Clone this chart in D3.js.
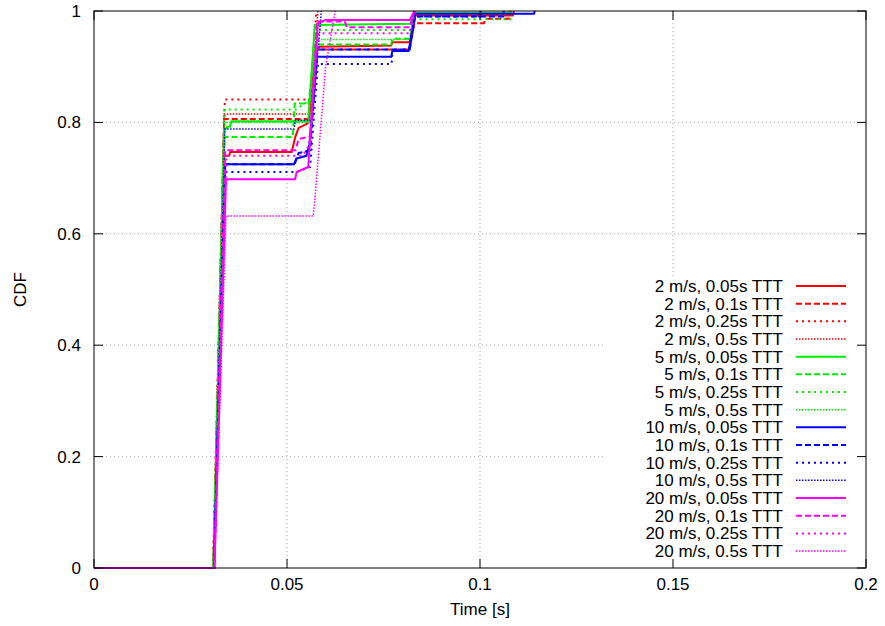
<!DOCTYPE html>
<html>
<head>
<meta charset="utf-8">
<script src="https://cdn.jsdelivr.net/npm/d3@7"></script>
<style>
  body { margin: 0; background: #fff; }
  text { font-family: "Liberation Sans", Arial, sans-serif; font-size: 17px; fill: #000; }
</style>
</head>
<body>
<script>
// CDF of handover delay, one curve per speed / TTT combination
const labels = [
  "2 m/s, 0.05s TTT", "2 m/s, 0.1s TTT", "2 m/s, 0.25s TTT", "2 m/s, 0.5s TTT",
  "5 m/s, 0.05s TTT", "5 m/s, 0.1s TTT", "5 m/s, 0.25s TTT", "5 m/s, 0.5s TTT",
  "10 m/s, 0.05s TTT", "10 m/s, 0.1s TTT", "10 m/s, 0.25s TTT", "10 m/s, 0.5s TTT",
  "20 m/s, 0.05s TTT", "20 m/s, 0.1s TTT", "20 m/s, 0.25s TTT", "20 m/s, 0.5s TTT"
];
const xTicks = [0, 0.05, 0.1, 0.15, 0.2];
const yTicks = [0, 0.2, 0.4, 0.6, 0.8, 1];

// [time (s), cdf]
const cdf_2_005 = [[0,0],[0.0310,0],[0.0338,0.740],[0.0350,0.740],[0.0353,0.747],[0.0512,0.747],[0.0522,0.775],[0.0530,0.790],[0.0550,0.797],[0.0556,0.800],[0.0575,0.930],[0.0585,0.936],[0.0770,0.938],[0.0773,0.944],[0.0818,0.944],[0.0832,0.992],[0.1085,0.992],[0.1088,1]];
const cdf_2_01  = [[0,0],[0.0309,0],[0.0337,0.806],[0.0555,0.806],[0.0574,0.931],[0.0818,0.931],[0.0830,0.978],[0.1010,0.978],[0.1015,0.986],[0.1075,0.986],[0.1080,1]];
const cdf_2_025 = [[0,0],[0.0308,0],[0.0339,0.841],[0.0560,0.841],[0.0576,1]];
const cdf_2_05  = [[0,0],[0.0309,0],[0.0337,0.815],[0.0562,0.815],[0.0580,1]];
const cdf_5_005 = [[0,0],[0.0309,0],[0.0337,0.785],[0.0345,0.792],[0.0352,0.792],[0.0356,0.802],[0.0555,0.802],[0.0572,0.975],[0.0820,0.977],[0.0832,0.997],[0.1075,0.997],[0.1078,1]];
const cdf_5_01  = [[0,0],[0.0310,0],[0.0338,0.774],[0.0515,0.774],[0.0520,0.834],[0.0556,0.834],[0.0573,0.940],[0.0770,0.940],[0.0773,0.950],[0.0818,0.950],[0.0830,1]];
const cdf_5_025 = [[0,0],[0.0309,0],[0.0338,0.823],[0.0523,0.823],[0.0560,0.840],[0.0580,0.966],[0.0820,0.966],[0.0830,0.985],[0.1078,0.985],[0.1080,1]];
const cdf_5_05  = [[0,0],[0.0309,0],[0.0338,0.800],[0.0560,0.800],[0.0578,0.949],[0.0820,0.949],[0.0832,1]];
const cdf_10_005 = [[0,0],[0.0311,0],[0.0340,0.725],[0.0518,0.725],[0.0524,0.735],[0.0550,0.740],[0.0558,0.760],[0.0578,0.918],[0.0770,0.918],[0.0773,0.928],[0.0815,0.928],[0.0832,0.995],[0.1140,0.995],[0.1142,1]];
const cdf_10_01  = [[0,0],[0.0311,0],[0.0340,0.725],[0.0520,0.725],[0.0530,0.745],[0.0560,0.750],[0.0578,0.931],[0.0818,0.931],[0.0832,0.990],[0.1060,0.990],[0.1062,1]];
const cdf_10_025 = [[0,0],[0.0311,0],[0.0341,0.711],[0.0525,0.711],[0.0560,0.720],[0.0580,0.905],[0.0771,0.905],[0.0773,0.930],[0.0815,0.930],[0.0832,0.990],[0.1000,0.990],[0.1002,1]];
const cdf_10_05  = [[0,0],[0.0310,0],[0.0339,0.788],[0.0518,0.788],[0.0522,0.804],[0.0565,0.804],[0.0589,1]];
const cdf_20_005 = [[0,0],[0.0312,0],[0.0342,0.698],[0.0521,0.698],[0.0525,0.711],[0.0555,0.720],[0.0580,0.978],[0.0600,0.984],[0.0818,0.984],[0.0830,1]];
const cdf_20_01  = [[0,0],[0.0311,0],[0.0340,0.750],[0.0522,0.750],[0.0530,0.770],[0.0560,0.775],[0.0578,0.981],[0.0650,0.981],[0.0655,0.971],[0.0818,0.971],[0.0830,1]];
const cdf_20_025 = [[0,0],[0.0312,0],[0.0342,0.740],[0.0540,0.740],[0.0558,0.760],[0.0582,0.960],[0.0818,0.960],[0.0832,1]];
const cdf_20_05  = [[0,0],[0.0312,0],[0.0342,0.632],[0.0568,0.632],[0.0572,0.660],[0.0600,0.900],[0.0625,1]];

const curves = [
  cdf_2_005, cdf_2_01, cdf_2_025, cdf_2_05,
  cdf_5_005, cdf_5_01, cdf_5_025, cdf_5_05,
  cdf_10_005, cdf_10_01, cdf_10_025, cdf_10_05,
  cdf_20_005, cdf_20_01, cdf_20_025, cdf_20_05
];

// styles: colour per speed, dash per TTT
const speedColors = ["#ff0000", "#00ee00", "#0000ff", "#ff00ff"];
const tttDash = [null, "6,3", "2,4", "1.5,1.5"];
const tttWidth = [2, 2, 2, 1.5];

const W = 885, H = 626;
const margin = {top: 11, right: 19, bottom: 58, left: 94};
const width = W - margin.left - margin.right,
      height = H - margin.top - margin.bottom;

const x = d3.scaleLinear().domain([0, 0.2]).range([0, width]);
const y = d3.scaleLinear().domain([0, 1]).range([height, 0]);

const svg = d3.select("body").append("svg")
    .attr("width", W)
    .attr("height", H);

const g = svg.append("g")
    .attr("transform", "translate(" + margin.left + "," + margin.top + ")");

// grid
g.selectAll(".gx").data(xTicks.slice(1, -1)).enter().append("line")
    .attr("x1", d => x(d)).attr("x2", d => x(d))
    .attr("y1", 0).attr("y2", height)
    .attr("stroke", "#a8a8a8").attr("stroke-width", 1)
    .attr("stroke-dasharray", "1,3");
g.selectAll(".gy").data(yTicks.slice(1, -1)).enter().append("line")
    .attr("x1", 0).attr("x2", width)
    .attr("y1", d => y(d)).attr("y2", d => y(d))
    .attr("stroke", "#a8a8a8").attr("stroke-width", 1)
    .attr("stroke-dasharray", "1,3");

// the curves
const line = d3.line()
    .x(d => x(d[0]))
    .y(d => y(d[1]));

g.selectAll(".curve").data(curves).enter().append("path")
    .attr("class", "curve")
    .attr("d", line)
    .attr("fill", "none")
    .attr("stroke", (d, i) => speedColors[Math.floor(i / 4)])
    .attr("stroke-width", (d, i) => tttWidth[i % 4])
    .attr("stroke-dasharray", (d, i) => tttDash[i % 4]);

// legend (opaque box hides the grid)
const legX = 511, legY = 266, rowH = 17.67;
g.append("rect")
    .attr("x", legX).attr("y", legY)
    .attr("width", width - legX).attr("height", height - legY)
    .attr("fill", "#fff");

const leg = g.selectAll(".leg").data(labels).enter().append("g")
    .attr("class", "leg")
    .attr("transform", (d, i) => "translate(0," + (legY + 9 + i * rowH) + ")");

leg.append("text")
    .attr("x", 689)
    .attr("dy", "0.35em")
    .attr("text-anchor", "end")
    .text(d => d);

leg.append("line")
    .attr("x1", 702).attr("x2", 752)
    .attr("stroke", (d, i) => speedColors[Math.floor(i / 4)])
    .attr("stroke-width", (d, i) => tttWidth[i % 4])
    .attr("stroke-dasharray", (d, i) => tttDash[i % 4]);

// ticks on all four sides, pointing inward
const tl = 9;
xTicks.forEach(t => {
  g.append("line").attr("x1", x(t)).attr("x2", x(t)).attr("y1", height).attr("y2", height - tl).attr("stroke", "#000");
  g.append("line").attr("x1", x(t)).attr("x2", x(t)).attr("y1", 0).attr("y2", tl).attr("stroke", "#000");
});
yTicks.forEach(t => {
  g.append("line").attr("x1", 0).attr("x2", tl).attr("y1", y(t)).attr("y2", y(t)).attr("stroke", "#000");
  g.append("line").attr("x1", width).attr("x2", width - tl).attr("y1", y(t)).attr("y2", y(t)).attr("stroke", "#000");
});

// border
g.append("rect")
    .attr("width", width).attr("height", height)
    .attr("fill", "none").attr("stroke", "#000").attr("stroke-width", 1);

// tick labels
g.selectAll(".xl").data(xTicks).enter().append("text")
    .attr("x", d => x(d)).attr("y", height + 16)
    .attr("dy", "0.35em")
    .attr("text-anchor", "middle")
    .text(d => d3.format("")(d));

g.selectAll(".yl").data(yTicks).enter().append("text")
    .attr("x", -13).attr("y", d => y(d))
    .attr("dy", "0.35em")
    .attr("text-anchor", "end")
    .text(d => d3.format("")(d));

// axis titles
svg.append("text")
    .attr("x", margin.left + width / 2).attr("y", 609)
    .attr("dy", "0.35em")
    .attr("text-anchor", "middle")
    .text("Time [s]");

svg.append("text")
    .attr("transform", "translate(20," + (margin.top + height / 2) + ")rotate(-90)")
    .attr("dy", "0.35em")
    .attr("text-anchor", "middle")
    .text("CDF");
</script>
</body>
</html>
